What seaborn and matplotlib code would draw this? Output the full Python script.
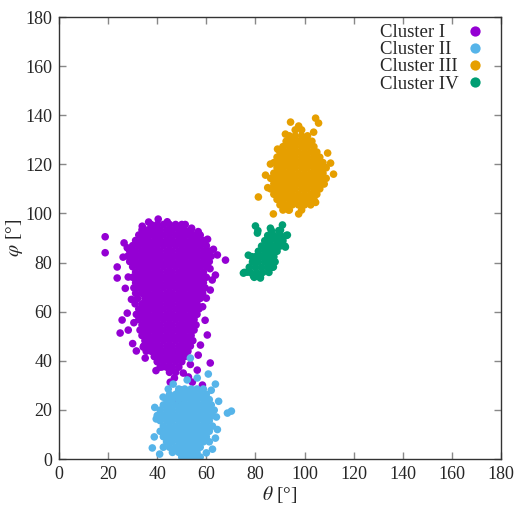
import pandas as pd
import matplotlib
matplotlib.use('Agg')
import matplotlib.pyplot as plt
import seaborn as sns


# Cluster I : rows of points (phi of the row, theta values along it) + loose points
c1_phi_rows = [95.5, 93.3, 91.2, 89.0, 86.9, 84.7, 82.6, 80.4, 78.3, 76.1, 74.0, 71.8, 69.7, 67.5,
               65.4, 63.2, 61.1, 58.9, 56.8, 54.6, 52.5, 50.3, 48.2, 46.0, 43.9, 41.7, 39.6, 37.4, 35.3]
c1_theta_rows = [
    [37.5, 40, 42.5, 45, 47.5, 50],
    [33.8, 36.2, 38.8, 41.2, 43.8, 46.2, 48.8, 51.2, 53.8],
    [32.5, 35, 37.5, 40, 42.5, 45, 47.5, 50, 52.5, 55, 57.5],
    [31.2, 33.8, 36.2, 38.8, 41.2, 43.8, 46.2, 48.8, 51.2, 53.8, 56.2, 58.8],
    [30, 32.5, 35, 37.5, 40, 42.5, 45, 47.5, 50, 52.5, 55, 57.5, 60],
    [28.8, 31.2, 33.8, 36.2, 38.8, 41.2, 43.8, 46.2, 48.8, 51.2, 53.8, 56.2, 58.8, 61.2],
    [30, 32.5, 35, 37.5, 40, 42.5, 45, 47.5, 50, 52.5, 55, 57.5, 60, 62],
    [28.8, 31.2, 33.8, 36.2, 38.8, 41.2, 43.8, 46.2, 48.8, 51.2, 53.8, 56.2, 58.8, 61.2],
    [30, 32.5, 35, 37.5, 40, 42.5, 45, 47.5, 50, 52.5, 55, 57.5, 60],
    [31.2, 33.8, 36.2, 38.8, 41.2, 43.8, 46.2, 48.8, 51.2, 53.8, 56.2, 58.8],
    [30, 32.5, 35, 37.5, 40, 42.5, 45, 47.5, 50, 52.5, 55, 57.5, 60],
    [31.2, 33.8, 36.2, 38.8, 41.2, 43.8, 46.2, 48.8, 51.2, 53.8, 56.2, 58.8],
    [30.5, 32.5, 35, 37.5, 40, 42.5, 45, 47.5, 50, 52.5, 55, 57.5, 59.5],
    [31.2, 33.8, 36.2, 38.8, 41.2, 43.8, 46.2, 48.8, 51.2, 53.8, 56.2, 58.5],
    [32, 35, 37.5, 40, 42.5, 45, 47.5, 50, 52.5, 55, 57.5],
    [31, 33.8, 36.2, 38.8, 41.2, 43.8, 46.2, 48.8, 51.2, 53.8, 56.2],
    [32.5, 35, 37.5, 40, 42.5, 45, 47.5, 50, 52.5, 55, 57],
    [31.5, 33.8, 36.2, 38.8, 41.2, 43.8, 46.2, 48.8, 51.2, 53.8, 56.2],
    [32.5, 35, 37.5, 40, 42.5, 45, 47.5, 50, 52.5, 55],
    [33.8, 36.2, 38.8, 41.2, 43.8, 46.2, 48.8, 51.2, 53.8, 55.8],
    [33, 35, 37.5, 40, 42.5, 45, 47.5, 50, 52.5, 55],
    [33.8, 36.2, 38.8, 41.2, 43.8, 46.2, 48.8, 51.2, 53.8],
    [35, 37.5, 40, 42.5, 45, 47.5, 50, 52.5, 54.5],
    [34.5, 36.2, 38.8, 41.2, 43.8, 46.2, 48.8, 51.2, 53.5],
    [35.5, 37.5, 40, 42.5, 45, 47.5, 50, 52.5],
    [38.8, 41.2, 43.8, 46.2, 48.8, 51.2],
    [40, 42.5, 45, 47.5, 50],
    [41.2, 43.8, 46.2, 48.8],
    [45, 47.5],
]
c1_theta_loose = [18.8, 18.8, 40.4, 44.1, 51.4, 33.9, 48.6, 56.7, 27.8, 26.1, 23.7, 23.7, 28.2, 67.8,
                  64.5, 62.9, 63.7, 62.4, 61.6, 27.8, 25.7, 28.2, 24.9, 60.4, 57.6, 56.7, 61.6, 56.3,
                  54.3, 58.4, 50.6, 52.7, 49.4, 48.6, 45.3, 42.0, 35.1, 34.3, 28.0, 26.5, 29.5, 27.0,
                  60.5, 61.5, 58.5, 59.5, 30.0, 36.5, 54.0, 47.0, 39.5, 53.5, 31.5, 60.0, 30.5]
c1_phi_loose = [90.5, 84.0, 97.7, 96.6, 95.5, 94.8, 94.2, 92.6, 86.0, 82.2, 78.2, 73.7, 74.1, 81.0,
                83.1, 85.4, 74.9, 72.9, 68.8, 59.4, 56.6, 52.5, 51.3, 50.5, 46.4, 42.3, 39.1, 36.2,
                31.3, 30.1, 35.0, 33.4, 28.1, 24.0, 31.3, 37.5, 41.1, 45.6, 82.6, 88.0, 65.0, 69.5,
                89.5, 77.5, 62.0, 56.5, 47.0, 96.5, 94.0, 33.0, 36.0, 38.5, 44.0, 65.5, 55.5]

# Cluster II
c2_phi_rows = [28.5, 26.3, 24.2, 22.0, 19.9, 17.7, 15.6, 13.4, 11.3, 9.1, 7.0, 4.8, 2.7, 0.8]
c2_theta_rows = [
    [48.8, 51.2, 53.8, 56.2, 58.8],
    [45, 47.5, 50, 52.5, 55, 57.5, 60],
    [43.8, 46.2, 48.8, 51.2, 53.8, 56.2, 58.8, 61.2],
    [42.5, 45, 47.5, 50, 52.5, 55, 57.5, 60, 62],
    [41.2, 43.8, 46.2, 48.8, 51.2, 53.8, 56.2, 58.8, 61.2, 63.2],
    [40, 42.5, 45, 47.5, 50, 52.5, 55, 57.5, 60, 62.5],
    [41.2, 43.8, 46.2, 48.8, 51.2, 53.8, 56.2, 58.8, 61.2],
    [42.5, 45, 47.5, 50, 52.5, 55, 57.5, 60, 62.5],
    [41.2, 43.8, 46.2, 48.8, 51.2, 53.8, 56.2, 58.8, 61.2],
    [42.5, 45, 47.5, 50, 52.5, 55, 57.5, 60],
    [43.8, 46.2, 48.8, 51.2, 53.8, 56.2, 58.8, 61.2],
    [42.5, 45, 47.5, 50, 52.5, 55, 57.5],
    [46.2, 48.8, 51.2, 53.8, 56.2],
    [50, 52.5, 55, 57.5],
]
c2_theta_loose = [68.6, 70.2, 38.0, 38.8, 39.6, 42.4, 63.7, 64.1, 53.5, 60.8, 63.7, 52.2, 56.3,
                  48.6, 44.5, 62.0, 65.0, 64.5, 41.0, 60.0, 39.0, 62.5, 46.5]
c2_phi_loose = [18.7, 19.5, 4.5, 9.0, 16.3, 25.2, 8.5, 17.1, 41.1, 34.6, 30.5, 32.2, 33.0,
                27.3, 28.5, 28.0, 23.5, 12.0, 2.0, 2.5, 21.0, 4.0, 30.5]

# Cluster III
c3_phi_rows = [134.0, 131.6, 129.4, 127.2, 125.0, 122.9, 120.7, 118.6, 116.4, 114.3, 112.1, 110.0,
               107.8, 105.7, 103.5, 101.4]
c3_theta_rows = [
    [96.2, 98.8],
    [93.8, 96.2, 98.8, 101.2],
    [92.5, 95, 97.5, 100, 103],
    [91.2, 93.8, 96.2, 98.8, 101.2, 103.8],
    [90, 92.5, 95, 97.5, 100, 102.5, 105],
    [88.8, 91.2, 93.8, 96.2, 98.8, 101.2, 103.8, 106.2],
    [87.5, 90, 92.5, 95, 97.5, 100, 102.5, 105, 107.5],
    [88.8, 91.2, 93.8, 96.2, 98.8, 101.2, 103.8, 106.2, 108.8],
    [87.5, 90, 92.5, 95, 97.5, 100, 102.5, 105, 107.5],
    [86.2, 88.8, 91.2, 93.8, 96.2, 98.8, 101.2, 103.8, 106.2, 108.8],
    [87.5, 90, 92.5, 95, 97.5, 100, 102.5, 105, 107.5],
    [86.2, 88.8, 91.2, 93.8, 96.2, 98.8, 101.2, 103.8, 106.2],
    [87.5, 90, 92.5, 95, 97.5, 100, 102.5, 105],
    [88.8, 91.2, 93.8, 96.2, 98.8, 101.2, 103.8],
    [90, 92.5, 95, 97.5, 100, 102.5],
    [91.2, 93.8, 98.8],
]
c3_theta_loose = [94.3, 104.5, 105.7, 97.6, 92.2, 103.7, 81.2, 86.1, 84.1, 89.0, 111.8, 109.4,
                  110.6, 87.3, 97.6, 93.5, 100.5, 108.0, 85.0, 104.5, 102.0]
c3_phi_loose = [137.2, 138.8, 136.8, 135.6, 132.3, 133.1, 106.7, 120.1, 115.6, 126.2, 116.0, 124.6,
                120.5, 99.8, 99.8, 101.4, 130.0, 112.0, 110.5, 104.5, 128.5]

# Cluster IV
c4_phi_rows = [93.0, 91.0, 88.9, 86.7, 84.6, 82.4, 80.3, 78.1, 76.0, 74.0]
c4_theta_rows = [
    [81.0, 86.5, 89.5],
    [85.0, 87.5, 90.0, 92.5],
    [83.8, 86.2, 88.8, 91.2],
    [82.5, 85.0, 87.5, 90.0, 92.0],
    [81.2, 83.8, 86.2, 88.8],
    [78.5, 80.0, 82.5, 85.0, 87.5],
    [78.8, 81.2, 83.8, 86.2, 88.0],
    [77.5, 80.0, 82.5, 85.0, 87.0],
    [75.5, 78.0, 80.5, 83.0, 85.5],
    [79.5, 82.0],
]
c4_theta_loose = [80.0, 80.8, 86.1, 91.0, 90.2, 93.0, 75.1, 76.7, 79.2, 82.0, 77.1, 92.2, 87.3]
c4_phi_loose = [94.9, 92.0, 94.0, 95.3, 93.2, 91.2, 75.7, 76.1, 74.5, 73.7, 83.0, 86.3, 78.2]

names = ['Cluster I', 'Cluster II', 'Cluster III', 'Cluster IV']
colors = ['#9400D3', '#56B4E9', '#E69F00', '#009E73']


def cluster_frame(name, phi_rows, theta_rows, theta_loose, phi_loose):
    th = [t for row in theta_rows for t in row] + theta_loose
    ph = [p for p, row in zip(phi_rows, theta_rows) for _ in row] + phi_loose
    return pd.DataFrame({'theta': th, 'phi': ph, 'cluster': name})


df = pd.concat([
    cluster_frame(names[0], c1_phi_rows, c1_theta_rows, c1_theta_loose, c1_phi_loose),
    cluster_frame(names[1], c2_phi_rows, c2_theta_rows, c2_theta_loose, c2_phi_loose),
    cluster_frame(names[2], c3_phi_rows, c3_theta_rows, c3_theta_loose, c3_phi_loose),
    cluster_frame(names[3], c4_phi_rows, c4_theta_rows, c4_theta_loose, c4_phi_loose),
], ignore_index=True)

sns.set_style('ticks')
plt.rcParams['font.family'] = ['Liberation Serif', 'DejaVu Serif']
plt.rcParams['mathtext.fontset'] = 'stix'

fig = plt.figure(figsize=(5.23, 5.19), dpi=100)
ax = fig.add_axes([59 / 523, 1 - 459 / 519, 442 / 523, 442 / 519])

sns.scatterplot(data=df, x='theta', y='phi', hue='cluster', hue_order=names,
                palette=colors, s=30, linewidth=0, alpha=1, ax=ax)

ax.set_xlim(0, 180)
ax.set_ylim(0, 180)
ax.set_xticks(range(0, 181, 20))
ax.set_yticks(range(0, 181, 20))
ax.tick_params(direction='in', top=True, right=True, length=5, width=1,
               color='#888888', labelsize=13, pad=5)
for sp in ax.spines.values():
    sp.set_color('#333333')
    sp.set_linewidth(1)

ax.set_xlabel(r'$\theta$ [°]', fontsize=14, labelpad=1)
ax.set_ylabel(r'$\varphi$ [°]', fontsize=14, labelpad=0)

# legend: text left-aligned, marker on the right (two overlaid legends)
handles, labels = ax.get_legend_handles_labels()
opts = dict(frameon=False, fontsize=13.5, labelspacing=0.0, borderpad=0, borderaxespad=0)
leg_text = ax.legend(handles, labels, loc='upper left', bbox_to_anchor=(0.726, 0.984),
                     handlelength=0, handletextpad=0, **opts)
for h in leg_text.legend_handles:
    h.set_visible(False)
ax.add_artist(leg_text)
leg_mark = ax.legend(handles, labels, loc='upper right', bbox_to_anchor=(0.962, 0.984),
                     markerfirst=False, markerscale=1.35, handlelength=1.0, handletextpad=0.5, **opts)
for t in leg_mark.get_texts():
    t.set_visible(False)

fig.savefig('out.png', dpi=100)
